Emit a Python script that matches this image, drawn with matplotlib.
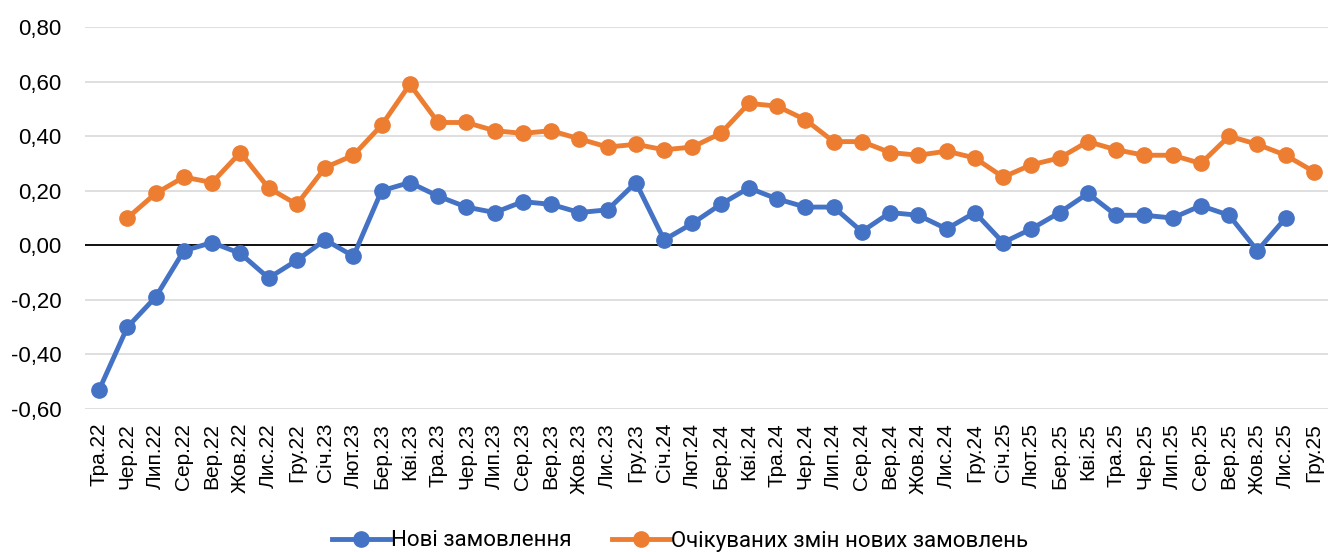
import matplotlib
matplotlib.use("Agg")
import matplotlib.pyplot as plt
from matplotlib.ticker import FuncFormatter, MultipleLocator
import numpy as np

months = ["Тра.22", "Чер.22", "Лип.22", "Сер.22", "Вер.22", "Жов.22", "Лис.22", "Гру.22",
          "Січ.23", "Лют.23", "Бер.23", "Кві.23", "Тра.23", "Чер.23", "Лип.23", "Сер.23",
          "Вер.23", "Жов.23", "Лис.23", "Гру.23", "Січ.24", "Лют.24", "Бер.24", "Кві.24",
          "Тра.24", "Чер.24", "Лип.24", "Сер.24", "Вер.24", "Жов.24", "Лис.24", "Гру.24",
          "Січ.25", "Лют.25", "Бер.25", "Кві.25", "Тра.25", "Чер.25", "Лип.25", "Сер.25",
          "Вер.25", "Жов.25", "Лис.25", "Гру.25"]

new_orders = [-0.53, -0.30, -0.19, -0.02, 0.01, -0.03, -0.12, -0.055,
              0.02, -0.04, 0.20, 0.23, 0.18, 0.14, 0.12, 0.16,
              0.15, 0.12, 0.13, 0.23, 0.02, 0.08, 0.15, 0.21,
              0.17, 0.14, 0.14, 0.05, 0.12, 0.11, 0.06, 0.12,
              0.01, 0.06, 0.12, 0.19, 0.11, 0.11, 0.10, 0.145,
              0.11, -0.02, 0.10, np.nan]

expected_orders = [np.nan, 0.10, 0.19, 0.25, 0.23, 0.34, 0.21, 0.15,
                   0.285, 0.33, 0.44, 0.59, 0.45, 0.45, 0.42, 0.41,
                   0.42, 0.39, 0.36, 0.37, 0.35, 0.36, 0.41, 0.52,
                   0.51, 0.46, 0.38, 0.38, 0.34, 0.33, 0.345, 0.32,
                   0.25, 0.295, 0.32, 0.38, 0.35, 0.33, 0.33, 0.30,
                   0.40, 0.37, 0.33, 0.27]

series_names = ["Нові замовлення", "Очікуваних змін нових замовлень"]
colors = ["#4472C4", "#ED7D31"]

plt.rcParams['font.family'] = ['Liberation Sans', 'DejaVu Sans']

fig = plt.figure(figsize=(13.28, 5.52), dpi=100)
ax = fig.add_axes([85/1328, 1 - 409/552, 1 - 85/1328, (409 - 27)/552])

x = np.arange(len(months))
for vals, name, c in zip([new_orders, expected_orders], series_names, colors):
    ax.plot(x, vals, color=c, lw=3.5, marker='o', markersize=11, label=name,
            solid_joinstyle='round', zorder=3)

ax.set_xlim(-0.5, len(months) - 0.5)
ax.set_ylim(-0.6, 0.8)
ax.yaxis.set_major_locator(MultipleLocator(0.2))
ax.yaxis.set_major_formatter(FuncFormatter(lambda v, p: f"{v:.2f}".replace('.', ',').replace('-0,00', '0,00')))
ax.grid(axis='y', color='#D9D9D9', lw=1.2, zorder=0)
ax.axhline(0, color='black', lw=1.3, zorder=2)
for s in ax.spines.values():
    s.set_visible(False)
ax.set_xticks(x)
ax.set_xticklabels(months, rotation=90)
ax.tick_params(axis='both', length=0, colors='black')
ax.tick_params(axis='y', pad=17, labelsize=16)
ax.tick_params(axis='x', pad=10, labelsize=15)

leg = fig.legend(loc='center', bbox_to_anchor=(680/1328, 1 - 541/552), ncol=2, frameon=False,
                 prop={'family': 'Roboto', 'size': 16}, handlelength=2.6, columnspacing=1.8,
                 handletextpad=0.05)

fig.savefig("out.png", dpi=100)
